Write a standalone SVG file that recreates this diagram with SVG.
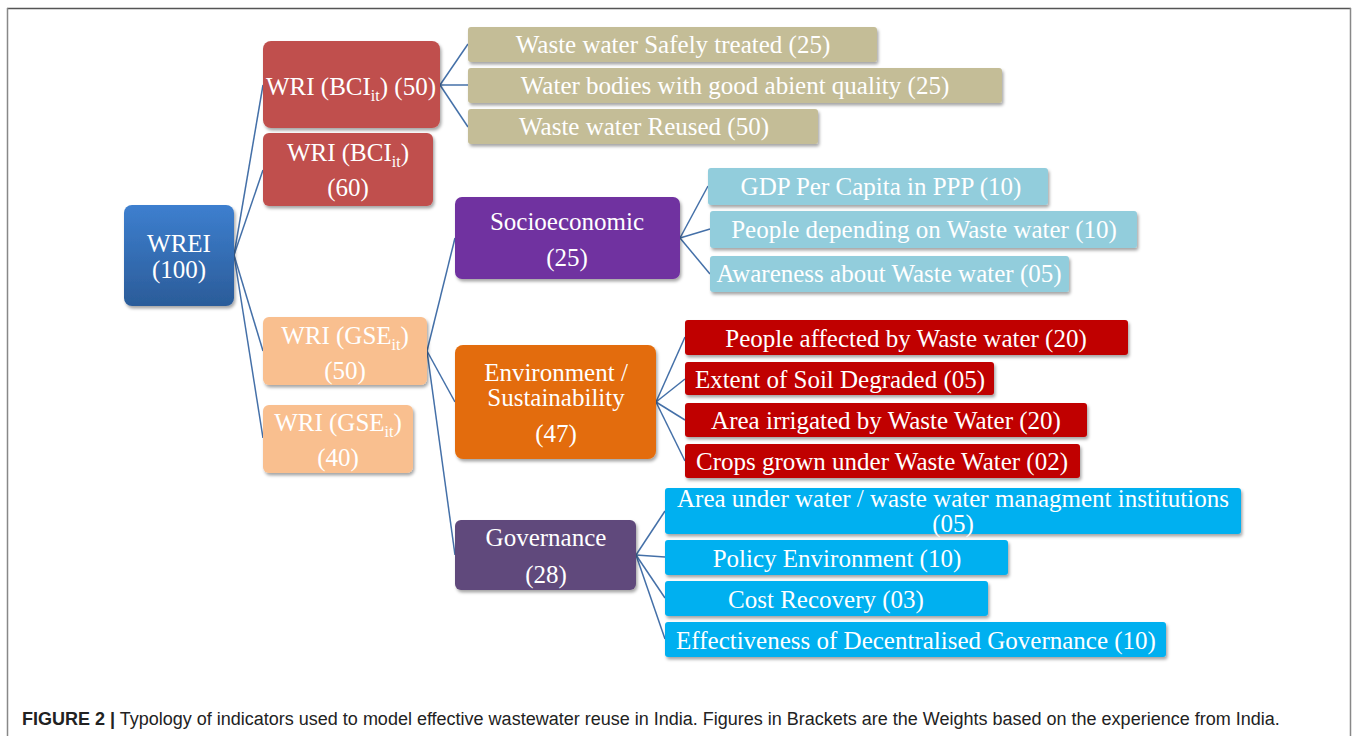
<svg xmlns="http://www.w3.org/2000/svg" width="1358" height="736" viewBox="0 0 1358 736">
<defs>
<linearGradient id="gBlue" x1="0" y1="0" x2="0" y2="1">
<stop offset="0" stop-color="#3d7fcf"/>
<stop offset="1" stop-color="#2b5c99"/>
</linearGradient>
<filter id="sh" x="-10%" y="-20%" width="125%" height="150%">
<feDropShadow dx="1.5" dy="2.5" stdDeviation="1.8" flood-color="#000" flood-opacity="0.35"/>
</filter>
</defs>
<style>
text{font-family:"Liberation Serif","Times New Roman",serif;font-size:25px;fill:#fff;text-anchor:middle}
.sub{font-size:16px}
.box{filter:url(#sh)}
.con line{stroke:#4470a8;stroke-width:1.5;fill:none}
.cap{font-family:"Liberation Sans",Arial,sans-serif;font-size:18px;fill:#222;text-anchor:start}
</style>
<rect width="1358" height="736" fill="#fff"/>
<g id="frame" fill="none">
<line x1="7" y1="8.5" x2="1351" y2="8.5" stroke="#555" stroke-width="1.5"/>
<line x1="7.5" y1="8" x2="7.5" y2="736" stroke="#888" stroke-width="1.5"/>
<line x1="1350.5" y1="8" x2="1350.5" y2="736" stroke="#888" stroke-width="1.5"/>
</g>
<g id="connectors" class="con">
<line x1="234" y1="255" x2="263" y2="85"/>
<line x1="234" y1="255" x2="263" y2="170"/>
<line x1="234" y1="255" x2="263" y2="351"/>
<line x1="234" y1="255" x2="263" y2="438"/>
<line x1="440" y1="85" x2="468" y2="44"/>
<line x1="440" y1="85" x2="468" y2="85"/>
<line x1="440" y1="85" x2="468" y2="127"/>
<line x1="427" y1="351" x2="455" y2="238"/>
<line x1="427" y1="351" x2="455" y2="402"/>
<line x1="427" y1="351" x2="455" y2="555"/>
<line x1="680" y1="238" x2="708" y2="186"/>
<line x1="680" y1="238" x2="710" y2="229"/>
<line x1="680" y1="238" x2="710" y2="274"/>
<line x1="656" y1="402" x2="685" y2="337"/>
<line x1="656" y1="402" x2="685" y2="379"/>
<line x1="656" y1="402" x2="685" y2="420"/>
<line x1="656" y1="402" x2="685" y2="461"/>
<line x1="636" y1="555" x2="665" y2="511"/>
<line x1="636" y1="555" x2="665" y2="557"/>
<line x1="636" y1="555" x2="665" y2="598"/>
<line x1="636" y1="555" x2="665" y2="639"/>
</g>
<g id="n-wrei"><rect class="box" x="124" y="205" width="110" height="101" rx="8" fill="url(#gBlue)"/><text x="179" y="252">WREI</text><text x="179" y="278">(100)</text></g>
<g id="n-bci50"><rect class="box" x="263" y="41" width="177" height="87" rx="8" fill="#c0504d"/><text x="351" y="95">WRI (BCI<tspan class="sub" dy="6">it</tspan><tspan dy="-6">) (50)</tspan></text></g>
<g id="n-bci60"><rect class="box" x="263" y="133" width="170" height="73" rx="6" fill="#c0504d"/><text x="348" y="161">WRI (BCI<tspan class="sub" dy="6">it</tspan><tspan dy="-6">)</tspan></text><text x="348" y="196">(60)</text></g>
<g id="n-gse50"><rect class="box" x="263" y="317" width="164" height="68" rx="6" fill="#f9bf8f"/><text x="345" y="344">WRI (GSE<tspan class="sub" dy="6">it</tspan><tspan dy="-6">)</tspan></text><text x="345" y="379">(50)</text></g>
<g id="n-gse40"><rect class="box" x="263" y="405" width="150" height="68" rx="6" fill="#f9bf8f"/><text x="338" y="431">WRI (GSE<tspan class="sub" dy="6">it</tspan><tspan dy="-6">)</tspan></text><text x="338" y="466">(40)</text></g>
<g id="n-socio"><rect class="box" x="455" y="197" width="225" height="82" rx="7" fill="#7030a0"/><text x="567" y="230">Socioeconomic</text><text x="567" y="266">(25)</text></g>
<g id="n-env"><rect class="box" x="455" y="345" width="201" height="114" rx="8" fill="#e36c09"/><text x="556" y="381">Environment /</text><text x="556" y="406">Sustainability</text><text x="556" y="442">(47)</text></g>
<g id="n-gov"><rect class="box" x="455" y="520" width="181" height="70" rx="6" fill="#604a7b"/><text x="546" y="546">Governance</text><text x="546" y="583">(28)</text></g>
<g id="n-t1"><rect class="box" x="468" y="27" width="409" height="35" rx="3" fill="#c4bd97"/><text x="673" y="53">Waste water Safely treated (25)</text></g>
<g id="n-t2"><rect class="box" x="468" y="68" width="534" height="35" rx="3" fill="#c4bd97"/><text x="735" y="94">Water bodies with good abient quality (25)</text></g>
<g id="n-t3"><rect class="box" x="468" y="109" width="350" height="35" rx="3" fill="#c4bd97"/><text x="644" y="135">Waste water Reused (50)</text></g>
<g id="n-s1"><rect class="box" x="708" y="168" width="340" height="37" rx="3" fill="#92cddc"/><text x="881" y="195">GDP Per Capita in PPP (10)</text></g>
<g id="n-s2"><rect class="box" x="710" y="211" width="427" height="37" rx="3" fill="#92cddc"/><text x="924" y="238">People depending on Waste water (10)</text></g>
<g id="n-s3"><rect class="box" x="710" y="256" width="359" height="36" rx="3" fill="#92cddc"/><text x="889" y="282">Awareness about Waste water (05)</text></g>
<g id="n-e1"><rect class="box" x="685" y="320" width="443" height="35" rx="3" fill="#c00000"/><text x="906" y="347">People affected by Waste water (20)</text></g>
<g id="n-e2"><rect class="box" x="685" y="362" width="309" height="33" rx="3" fill="#c00000"/><text x="840" y="388">Extent of Soil Degraded (05)</text></g>
<g id="n-e3"><rect class="box" x="685" y="403" width="402" height="34" rx="3" fill="#c00000"/><text x="886" y="429">Area irrigated by Waste Water (20)</text></g>
<g id="n-e4"><rect class="box" x="685" y="444" width="395" height="34" rx="3" fill="#c00000"/><text x="882" y="470">Crops grown under Waste Water (02)</text></g>
<g id="n-g1"><rect class="box" x="665" y="488" width="576" height="46" rx="3" fill="#00b0f0"/><text x="953" y="507">Area under water / waste water managment institutions</text><text x="953" y="532">(05)</text></g>
<g id="n-g2"><rect class="box" x="665" y="540" width="343" height="35" rx="3" fill="#00b0f0"/><text x="837" y="567">Policy Environment (10)</text></g>
<g id="n-g3"><rect class="box" x="665" y="581" width="323" height="35" rx="3" fill="#00b0f0"/><text x="826" y="608">Cost Recovery (03)</text></g>
<g id="n-g4"><rect class="box" x="665" y="622" width="501" height="35" rx="3" fill="#00b0f0"/><text x="916" y="649">Effectiveness of Decentralised Governance (10)</text></g>
<g id="caption"><text class="cap" x="22" y="725"><tspan font-weight="bold">FIGURE 2 |</tspan> Typology of indicators used to model effective wastewater reuse in India. Figures in Brackets are the Weights based on the experience from India.</text></g>
</svg>
